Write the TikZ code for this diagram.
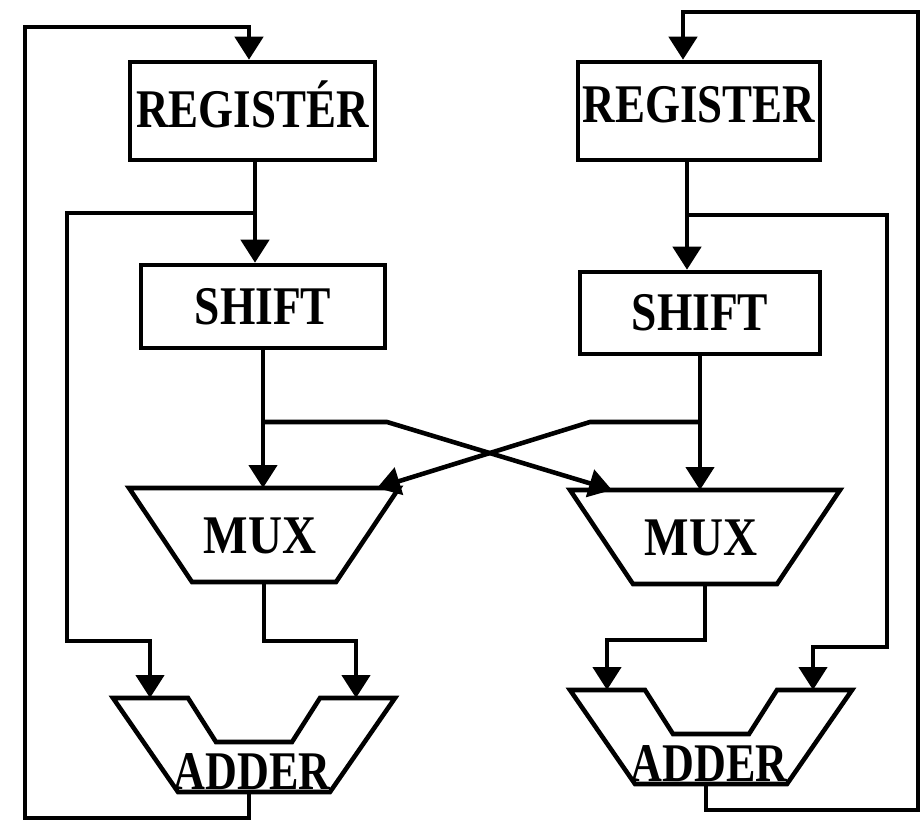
\documentclass[tikz,border=0pt]{standalone}
\usepackage{fontspec}
\setmainfont{Liberation Serif}
\usepackage{graphicx}
\usetikzlibrary{arrows.meta}
% horizontally condensed label text
\newcommand\hsqueeze[2][0.87]{\scalebox{#1}[1]{#2}}
\tikzset{
  wire/.style={line width=2.6pt},
  flow/.style={wire, -{Triangle[width=0.56cm,length=0.46cm]}},
  block/.style={draw, line width=2.6pt, inner sep=0pt, font=\fontsize{31}{31}\selectfont\bfseries},
  lbl/.style={inner sep=0pt, font=\fontsize{31}{31}\selectfont\bfseries},
  % multiplexer: wide top, narrow bottom
  pics/mux/.style={code={
    \draw[wire] (-135,0) -- (135,0) -- (72,94) -- (-72,94) -- cycle;
    \coordinate (-top) at (0,0);
    \coordinate (-out) at (0,94);
    \node[lbl] (-txt) at (-4,48) {\hsqueeze[0.865]{MUX}};
  }},
  % adder: trapezoid with a notch between its two inputs
  pics/adder/.style={code={
    \draw[wire] (-141,0) -- (-66,0) -- (-38,44) -- (38,44) -- (66,0) -- (141,0)
                -- (76,94) -- (-76,94) -- cycle;
    \coordinate (-a) at (-104,0);
    \coordinate (-b) at (102,0);
    \coordinate (-out) at (-5,94);
    \node[lbl] (-txt) at (-2,74) {\hsqueeze[0.81]{ADDER}};
  }}
}
\begin{document}
\begin{tikzpicture}[x=0.02cm, y=-0.02cm]
\useasboundingbox (0,0) rectangle (923,821);

% left datapath
\node[block, minimum width=4.9cm, minimum height=1.96cm, text depth=0.28cm] (regL) at (252.5,111) {\hsqueeze[0.825]{REGISTÉR}};
\node[block, minimum width=4.88cm, minimum height=1.66cm] (shL) at (263,306.5) {\hsqueeze[0.835]{SHIFT}};
\pic (muxL) at (264,488) {mux};
\pic (addL) at (254,698) {adder};

% right datapath
\node[block, minimum width=4.84cm, minimum height=1.96cm, text depth=0.28cm] (regR) at (699,111) {\hsqueeze[0.825]{REGISTER}};
\node[block, minimum width=4.8cm, minimum height=1.64cm] (shR) at (700,313) {\hsqueeze[0.835]{SHIFT}};
\pic (muxR) at (705,490) {mux};
\pic (addR) at (711,690) {adder};

% branch points and bends
\coordinate (jL1) at (255,213);
\coordinate (jR1) at (687,215);
\coordinate (jL2) at (263,422);
\coordinate (jR2) at (700,422);
\coordinate (kL) at (387,422);
\coordinate (kR) at (590,422);
\coordinate (xinL) at (377,488);
\coordinate (xinR) at (612,490);
\coordinate (fbL) at (67,641);
\coordinate (fbR) at (887,647);
\coordinate (mR) at (705,640);
\coordinate (cBL) at (25,818);
\coordinate (cTL) at (25,27);
\coordinate (cBR) at (918,810);
\coordinate (cTR) at (918,12);
\coordinate (tinR) at (683,12);

% register -> shift, with a tap to the adder
\draw[flow] (jL1 |- regL.south) -- (jL1 |- shL.north);
\draw[flow] (jR1 |- regR.south) -- (jR1 |- shR.north);
\draw[flow] (jL1) -| (fbL) -| (addL-a);
\draw[flow] (jR1) -| (fbR) -| (addR-b);

% shift -> own mux, and crossed to the other mux
\draw[flow] (shL.south) -- (shL.south |- muxL-top);
\draw[flow] (shR.south) -- (shR.south |- muxR-top);
\draw[flow] (jL2) -- (kL) -- (xinR);
\draw[flow] (jR2) -- (kR) -- (xinL);

% mux -> adder
\draw[flow] (muxL-out) -- (muxL-out |- fbL) -| (addL-b);
\draw[flow] (muxR-out) -- (mR) -| (addR-a);

% adder -> register return loops
\draw[flow] (addL-out) -- (addL-out |- cBL) -- (cBL) -- (cTL) -- (cTL -| addL-out) -- (addL-out |- regL.north);
\draw[flow] (addR-out) -- (addR-out |- cBR) -- (cBR) -- (cTR) -- (tinR) -- (tinR |- regR.north);
\end{tikzpicture}
\end{document}
